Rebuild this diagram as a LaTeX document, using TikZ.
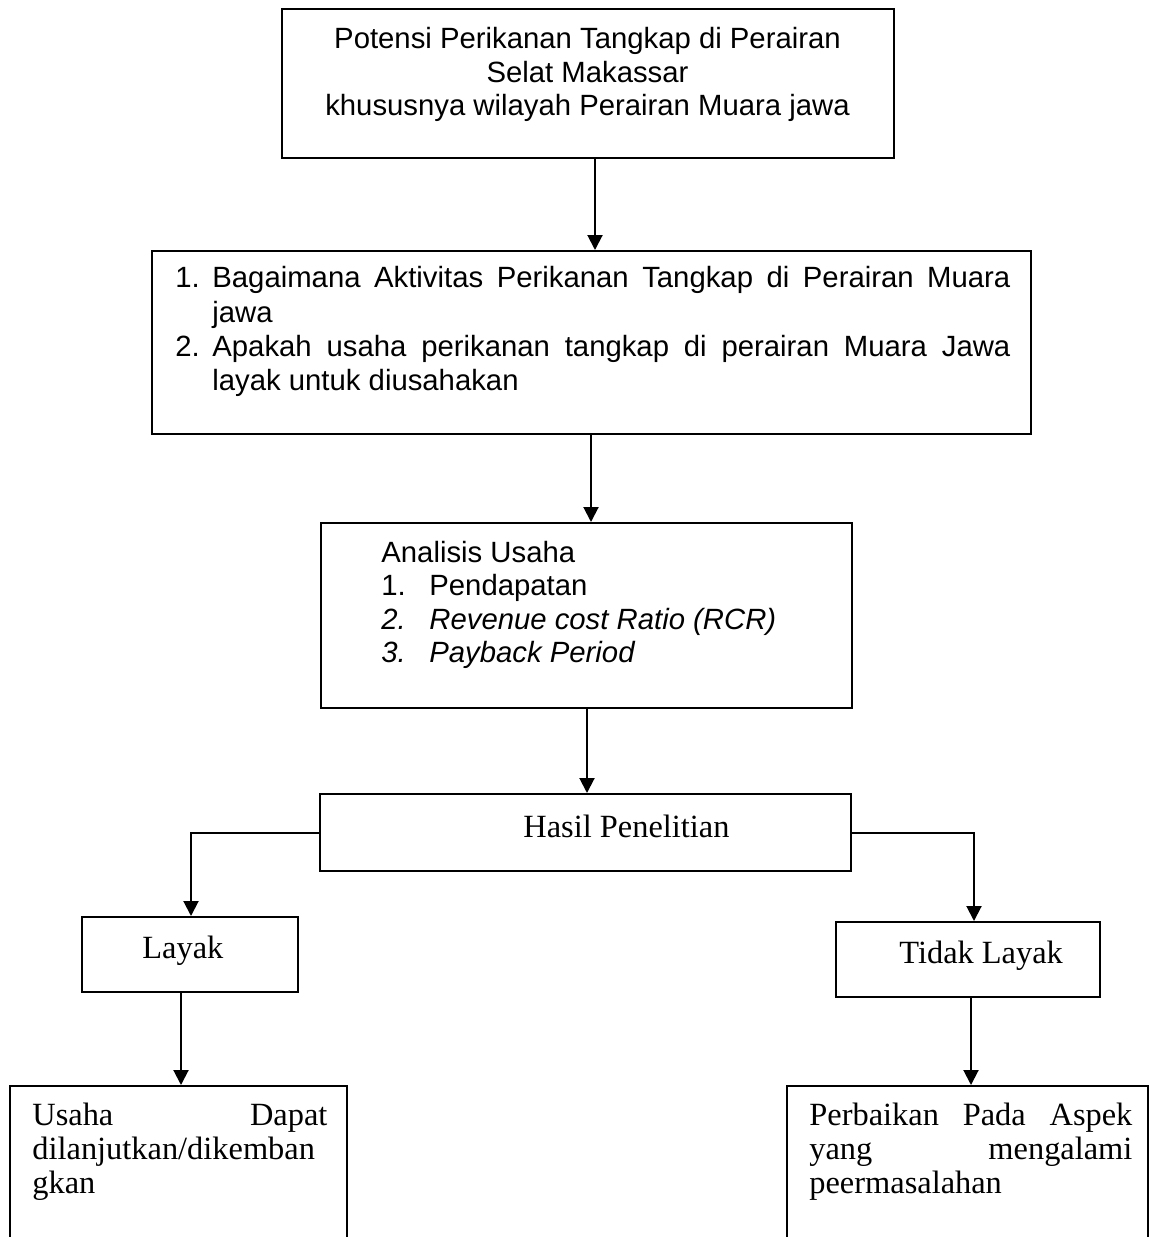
\documentclass[tikz,border=0pt]{standalone}
\usepackage{fontspec}
\setmainfont{Liberation Serif}
\setsansfont{Liberation Sans}
\usetikzlibrary{arrows.meta}
\begin{document}
\begin{tikzpicture}[x=0.5pt,y=-0.5pt,
  box/.style={draw, line width=1pt, inner sep=0pt},
  arr/.style={line width=1pt, -{Triangle[length=7.5pt,width=7.5pt]}},
  sans/.style={inner sep=0pt, font=\fontsize{14.65pt}{17pt}\sffamily},
  serif/.style={inner sep=0pt, font=\fontsize{16.2pt}{17pt}\rmfamily},
]
\useasboundingbox (0,0) rectangle (1150,1237);
\clip (0,0) rectangle (1150,1237);
\fill[white] (0,0) rectangle (1150,1237);

% boxes
\node[box, minimum width=306pt, minimum height=74.5pt] (b1) at (588,83.5) {};
\node[box, minimum width=439.5pt, minimum height=91.5pt] (b2) at (591.5,342.5) {};
\node[box, minimum width=265.5pt, minimum height=92.5pt] (b3) at (586.5,615.5) {};
\node[box, minimum width=265.5pt, minimum height=38.5pt] (b4) at (585.5,832.5) {};
\node[box, minimum width=108pt, minimum height=37.5pt] (b5) at (190,954.5) {};
\node[box, minimum width=132pt, minimum height=37.5pt] (b6) at (968,959.5) {};
\node[box, minimum width=168.5pt, minimum height=107pt] (b7) at (178.5,1193) {};
\node[box, minimum width=180.5pt, minimum height=107pt] (b8) at (967.5,1193) {};

% box 1 text
\node[sans, anchor=base] (t11) at (587.5,48) {Potensi Perikanan Tangkap di Perairan};
\node[sans, anchor=base] (t12) at (587.5,82) {Selat Makassar};
\node[sans, anchor=base] (t13) at (587.5,115) {khususnya wilayah Perairan Muara jawa};

% box 2 text
\node[sans, anchor=base west] (n21) at (175,287) {1.};
\node[sans, anchor=base west] (t21) at (212,287) {\makebox[399pt][s]{Bagaimana Aktivitas Perikanan Tangkap di Perairan Muara}};
\node[sans, anchor=base west] (t22) at (212,322) {jawa};
\node[sans, anchor=base west] (n23) at (175,356) {2.};
\node[sans, anchor=base west] (t23) at (212,356) {\makebox[399pt][s]{Apakah usaha perikanan tangkap di perairan Muara Jawa}};
\node[sans, anchor=base west] (t24) at (212,390) {layak untuk diusahakan};

% box 3 text
\node[sans, anchor=base west] (t31) at (381,562) {Analisis Usaha};
\node[sans, anchor=base west] (n32) at (381,595.5) {1.};
\node[sans, anchor=base west] (t32) at (429,595.5) {Pendapatan};
\node[sans, anchor=base west] (n33) at (381,629) {\itshape 2.};
\node[sans, anchor=base west] (t33) at (429,629) {\itshape Revenue cost Ratio (RCR)};
\node[sans, anchor=base west] (n34) at (381,662.5) {\itshape 3.};
\node[sans, anchor=base west] (t34) at (429,662.5) {\itshape Payback Period};

% serif texts
\node[serif, anchor=base west] (t4) at (523,837) {Hasil Penelitian};
\node[serif, anchor=base west] (t5) at (142,958) {Layak};
\node[serif, anchor=base west] (t6) at (899,963) {Tidak Layak};

\node[serif, anchor=base west] (t71) at (32,1125) {\makebox[147.5pt][s]{Usaha Dapat}};
\node[serif, anchor=base west] (t72) at (32,1159) {dilanjutkan/dikemban};
\node[serif, anchor=base west] (t73) at (32,1193) {gkan};

\node[serif, anchor=base west] (t81) at (809,1125) {\makebox[161.5pt][s]{Perbaikan Pada Aspek}};
\node[serif, anchor=base west] (t82) at (809,1159) {\makebox[161.5pt][s]{yang mengalami}};
\node[serif, anchor=base west] (t83) at (809,1193) {peermasalahan};

% connector x positions
\coordinate (x1) at (595,0);
\coordinate (x2) at (591,0);
\coordinate (x3) at (587,0);
\coordinate (xl) at (191,0);
\coordinate (xr) at (974,0);
\coordinate (xdl) at (181,0);
\coordinate (xdr) at (971,0);

% connectors
\draw[arr] (b1.south -| x1) -- (b2.north -| x1);
\draw[arr] (b2.south -| x2) -- (b3.north -| x2);
\draw[arr] (b3.south -| x3) -- (b4.north -| x3);
\draw[arr] (b4.west) -| (b5.north -| xl);
\draw[arr] (b4.east) -| (b6.north -| xr);
\draw[arr] (b5.south -| xdl) -- (b7.north -| xdl);
\draw[arr] (b6.south -| xdr) -- (b8.north -| xdr);
\end{tikzpicture}
\end{document}
